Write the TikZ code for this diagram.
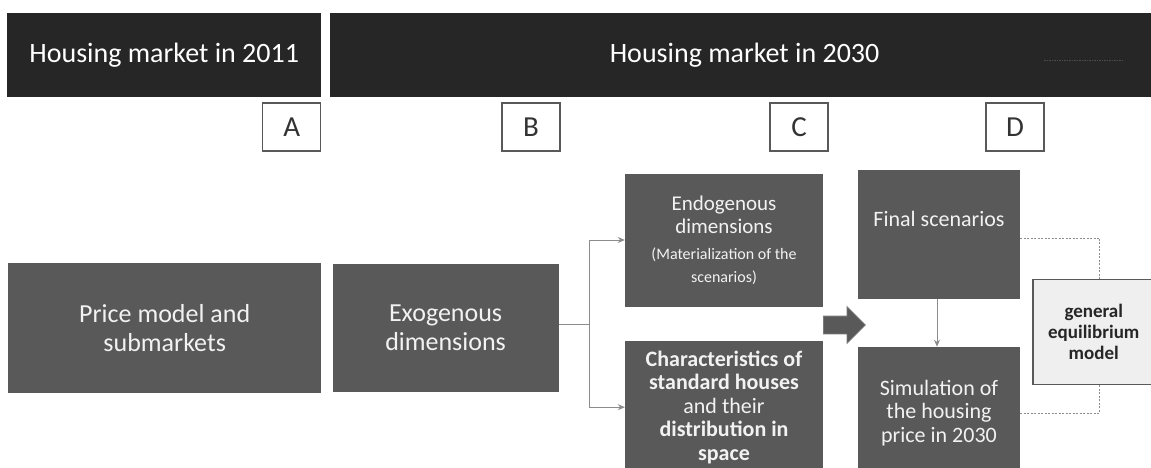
\documentclass[tikz,border=0pt]{standalone}
\usepackage{fontspec}
\setmainfont{Carlito}
\usepackage{tikz}
\usetikzlibrary{arrows.meta,positioning,calc,shapes.arrows}
\definecolor{barcol}{HTML}{262626}
\definecolor{boxcol}{HTML}{595959}
\definecolor{linecol}{HTML}{8C8C8C}
\definecolor{gemfill}{HTML}{EFEFEF}

\begin{document}
\begin{tikzpicture}[x=1pt,y=-1pt,>={Stealth[length=7pt,width=6pt]},
    bar/.style={fill=barcol,text=white,minimum height=84pt,inner sep=0pt,font=\fontsize{28}{32}\selectfont},
    letter/.style={draw=boxcol,line width=1.2pt,fill=white,minimum width=58pt,minimum height=48pt,inner sep=0pt,text=black!80,font=\fontsize{29}{32}\selectfont},
    box/.style={fill=boxcol,text=white!95!black,align=center,inner sep=0pt},
    link/.style={->,draw=linecol,line width=1pt},
    feedback/.style={draw=linecol,line width=0.8pt,dash pattern=on 2pt off 1.5pt}]
    \useasboundingbox (0,0) rectangle (1151,468);
    \clip (0,0) rectangle (1151,468);
    % Header bars
    \node[bar,anchor=north west,minimum width=314pt] (now) at (7,13) {Housing market in 2011};
    \node[bar,minimum width=830pt,right=8pt of now] (future) {Housing market in 2030};
    \draw[black!70,line width=0.6pt,dash pattern=on 1.5pt off 1pt] (1044,60) -- (1122,60);
    % Stage letters
    \node[letter,below left=5pt and 0pt of now.south east] (A) {A};
    \node[letter] (B) at (531,127) {B};
    \node[letter] (C) at (799,127) {C};
    \node[letter] (D) at (1015,127) {D};
    % Stages
    \node[box,anchor=north west,minimum width=313pt,minimum height=130pt,font=\fontsize{26}{29}\selectfont] (price) at (8,263) {Price model and\\submarkets};
    \node[box,minimum width=226pt,minimum height=128pt,right=11pt of price,font=\fontsize{26}{29}\selectfont] (exo) {Exogenous\\dimensions};
    \node[box,minimum width=198pt,minimum height=133pt,font=\fontsize{21}{23}\selectfont] (endo) at (724,240) {Endogenous\\dimensions\\[3pt]{\fontsize{16}{19}\selectfont(Materialization of the}\\{\fontsize{16}{19}\selectfont scenarios)}};
    \node[box,anchor=north,minimum width=198pt,minimum height=132pt,font=\fontsize{22}{23.5}\selectfont] (chars) at (724,341) {\textbf{Characteristics of}\\\textbf{standard houses}\\and their\\\textbf{distribution in}\\\textbf{space}};
    \node[single arrow,fill=boxcol,draw=boxcol!80,line width=0.8pt,inner xsep=0pt,inner ysep=8.5pt,single arrow head extend=9.5pt,minimum height=42pt,anchor=tail] (push) at (823,325) {};
    \node[box,minimum width=162pt,minimum height=129pt,font=\fontsize{22}{23.5}\selectfont] (final) at (939,234) {Final scenarios\\[6pt]};
    \node[box,minimum width=162pt,minimum height=132pt,below=48pt of final,font=\fontsize{22}{23.5}\selectfont] (sim) {Simulation of\\the housing\\price in 2030};
    \node[draw=boxcol,line width=1.5pt,fill=gemfill,text=barcol,align=center,minimum width=122pt,minimum height=105pt,inner sep=0pt,anchor=west,font=\bfseries\fontsize{19}{21}\selectfont] (gem) at (1032,332) {general\\equilibrium\\model};
    % Connectors
    \coordinate (split) at ($(exo.east)+(31,-4)$);
    \draw[draw=linecol,line width=1pt] (exo.east|-split) -- (split);
    \draw[link] (split) |- (endo.west);
    \draw[link] (split) |- (chars.west);
    \draw[link] ([xshift=-2pt]final.south) -- ([xshift=-2pt]sim.north);
    \draw[feedback] ([yshift=-4pt]final.east) -| ([xshift=6pt]gem.north);
    \draw[feedback] (sim.east) -| ([xshift=6pt]gem.south);
\end{tikzpicture}
\end{document}
